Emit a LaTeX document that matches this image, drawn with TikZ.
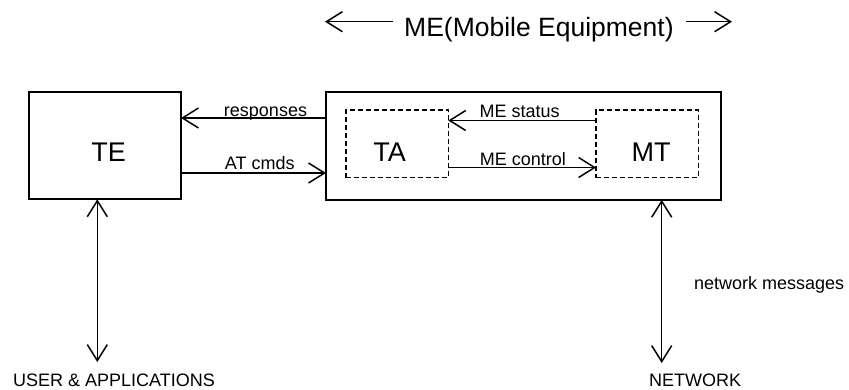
\documentclass[tikz,border=0pt]{standalone}
\usepackage{fontspec}
\setmainfont{Liberation Sans}
\usetikzlibrary{arrows.meta}
\begin{document}
\begin{tikzpicture}[x=1pt,y=-1pt,
  solidbox/.style={draw, line width=1.8pt, outer sep=0pt, inner sep=0pt},
  dashbox/.style={draw, line width=1.6pt, dash pattern=on 5pt off 3pt, outer sep=0pt, inner sep=0pt},
  arr/.style={line width=1.5pt, -{Straight Barb[length=16pt,width=20pt]}},
  darr/.style={line width=1.5pt, {Straight Barb[length=16pt,width=20pt]}-{Straight Barb[length=16pt,width=20pt]}},
  small/.style={font=\fontsize{18}{20}\selectfont, inner sep=0pt},
  big/.style={font=\fontsize{27}{30}\selectfont, inner sep=0pt},
  ttl/.style={font=\fontsize{26.5}{30}\selectfont, inner sep=0pt}]
\useasboundingbox[fill=white] (0,0) rectangle (849,389);

% boxes
\node[solidbox, minimum width=151.7pt, minimum height=107.6pt] (TE) at (105.2,145.5) {};
\node[solidbox, minimum width=394.7pt, minimum height=108pt] (ME) at (523.3,145.8) {};
\node[dashbox, minimum width=102.6pt, minimum height=67.7pt] (TA) at (397,143.8) {};
\node[dashbox, minimum width=102.3pt, minimum height=67.7pt] (MT) at (647.2,143.8) {};

% box labels
\node[big] (TElbl) at (108.7,152) {TE};
\node[big] (TAlbl) at (389.5,152) {TA};
\node[big] (MTlbl) at (651,152) {MT};

% title
\node[ttl, anchor=base west] (title) at (404,36) {ME(Mobile Equipment)};
\coordinate (tl1) at (393,21.7);
\coordinate (tl2) at (325,21.7);
\coordinate (tr1) at (686,21.7);
\coordinate (tr2) at (732,21.7);
\draw[arr] (tl1) -- (tl2);
\draw[arr] (tr1) -- (tr2);

% horizontal connectors
\coordinate (yresp) at (0,118);
\coordinate (yat) at (0,173);
\coordinate (ystat) at (0,120.5);
\coordinate (yctl) at (0,167.5);
\draw[arr] (ME.west |- yresp) -- (TE.east |- yresp);
\draw[arr] (TE.east |- yat) -- (ME.west |- yat);
\draw[arr] (MT.west |- ystat) -- (TA.east |- ystat);
\draw[arr] (TA.east |- yctl) -- (MT.west |- yctl);

\node[small, anchor=base] (lresp) at (265.5,116) {responses};
\node[small, anchor=base] (lat) at (259.7,169.5) {AT cmds};
\node[small, anchor=base] (lstat) at (519.7,117.5) {ME status};
\node[small, anchor=base] (lctl) at (523,165.5) {ME control};

% vertical connectors
\coordinate (xu) at (97.3,0);
\coordinate (xn) at (661.7,0);
\coordinate (ubot) at (97.3,362);
\coordinate (nbot) at (661.7,363);
\draw[darr] (TE.south -| xu) -- (ubot);
\draw[darr] (ME.south -| xn) -- (nbot);

\node[small, anchor=base west] (user) at (13,386) {USER \& APPLICATIONS};
\node[small, anchor=base west] (net) at (649,386) {NETWORK};
\node[small, anchor=base west] (netmsg) at (694,289.3) {network messages};
\end{tikzpicture}
\end{document}
